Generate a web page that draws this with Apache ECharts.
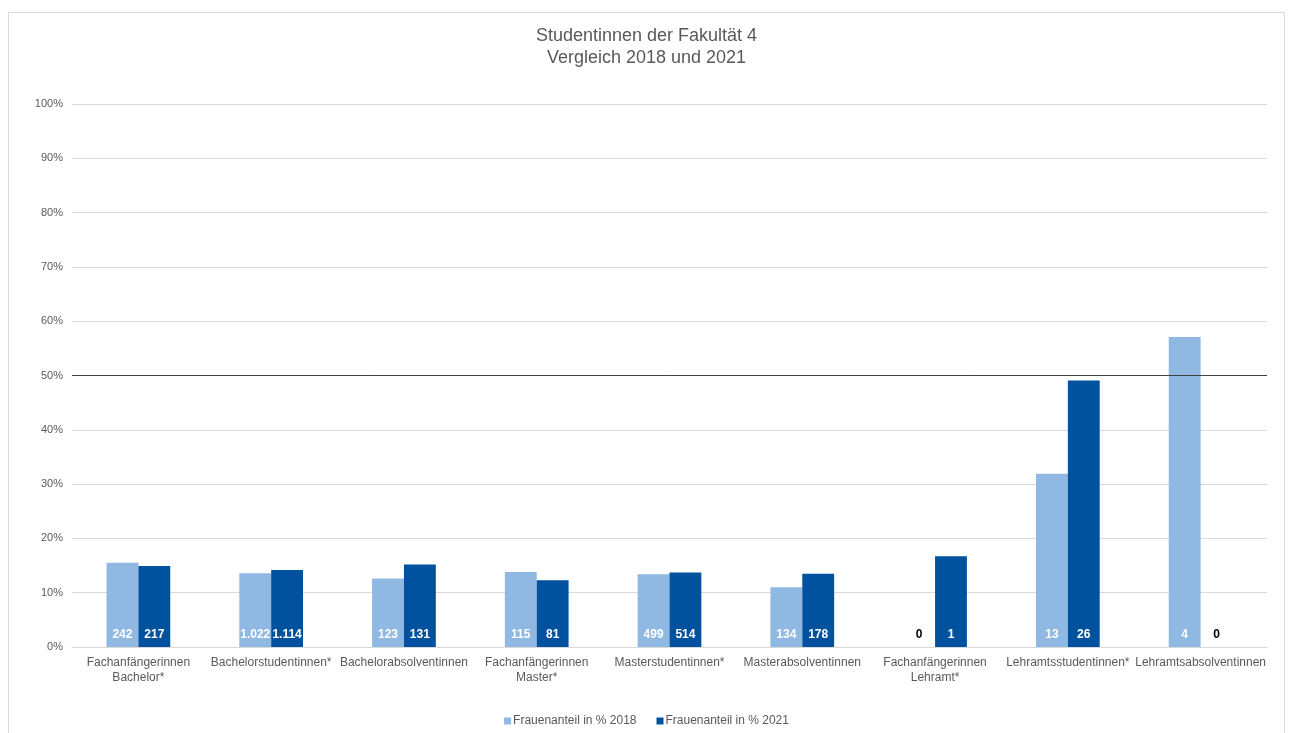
<!DOCTYPE html>
<html><head><meta charset="utf-8">
<script src="https://cdn.jsdelivr.net/npm/echarts@6/dist/echarts.min.js"></script>
<style>html,body{margin:0;padding:0;background:#fff}#c{width:1293px;height:733px}</style>
</head><body><div id="c"></div>
<script>
const categories = ['Fachanfängerinnen\nBachelor*','Bachelorstudentinnen*','Bachelorabsolventinnen','Fachanfängerinnen\nMaster*','Masterstudentinnen*','Masterabsolventinnen','Fachanfängerinnen\nLehramt*','Lehramtsstudentinnen*','Lehramtsabsolventinnen'];
const share2018 = [15.5, 13.6, 12.6, 13.8, 13.4, 11.0, 0, 31.9, 57.1];
const share2021 = [14.9, 14.2, 15.2, 12.3, 13.7, 13.5, 16.7, 49.1, 0];
const count2018 = ['242','1.022','123','115','499','134','0','13','4'];
const count2021 = ['217','1.114','131','81','514','178','1','26','0'];
const yTicks = {min:0, max:100, interval:10};
const threshold = 50;

const font = 'Liberation Sans, Arial, sans-serif';
function mkData(vals, counts){
  return vals.map((v,i)=>({value:v, label:{formatter:counts[i], color: v===0 ? '#000' : '#fff'}}));
}
const chart = echarts.init(document.getElementById('c'));
chart.setOption({
  animation:false,
  textStyle:{fontFamily:font},
  graphic:[{type:'rect',shape:{x:8.5,y:12.5,width:1276,height:740},style:{fill:'none',stroke:'#d9d9d9',lineWidth:1},silent:true}],
  title:{text:'Studentinnen der Fakultät 4\nVergleich 2018 und 2021',left:'center',top:20,
    textStyle:{fontFamily:font,fontSize:18,fontWeight:'normal',color:'#595959',lineHeight:22}},
  legend:{bottom:1,left:'center',itemWidth:7,itemHeight:7,itemGap:20,icon:'rect',
    textStyle:{fontFamily:font,fontSize:12,color:'#595959',padding:[0,0,0,-3]},
    data:['Frauenanteil in % 2018','Frauenanteil in % 2021']},
  grid:{left:72,right:26,top:104,bottom:86},
  xAxis:{type:'category',data:categories,
    axisLine:{lineStyle:{color:'#d9d9d9'}},axisTick:{show:false},
    axisLabel:{interval:0,color:'#595959',fontSize:12,fontFamily:font,margin:8,lineHeight:15}},
  yAxis:{type:'value',min:yTicks.min,max:yTicks.max,interval:yTicks.interval,
    axisLabel:{formatter:'{value}%',color:'#595959',fontSize:11,fontFamily:font,margin:9},
    splitLine:{lineStyle:{color:'#d9d9d9'}},axisLine:{show:false},axisTick:{show:false}},
  series:[
    {name:'Frauenanteil in % 2018',type:'bar',data:mkData(share2018,count2018),
      itemStyle:{color:'#8fb8e3'},barGap:'0%',barCategoryGap:'52%',
      label:{show:true,position:'insideBottom',distance:6,fontSize:12,fontWeight:'bold',fontFamily:font}},
    {name:'Frauenanteil in % 2021',type:'bar',data:mkData(share2021,count2021),
      itemStyle:{color:'#00529f'},barGap:'0%',barCategoryGap:'52%',
      label:{show:true,position:'insideBottom',distance:6,fontSize:12,fontWeight:'bold',fontFamily:font}},
    {name:'threshold',type:'line',data:[],z:10,
      markLine:{silent:true,symbol:'none',z:10,label:{show:false},lineStyle:{color:'#404040',type:'solid',width:1},data:[{yAxis:threshold}]}}
  ]
});
</script></body></html>
